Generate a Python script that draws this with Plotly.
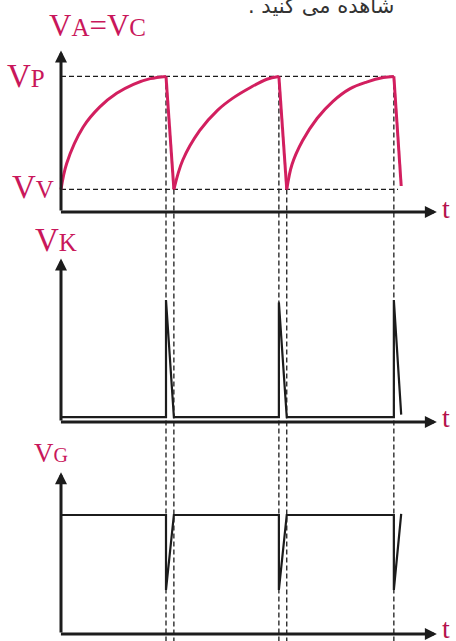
import plotly.graph_objects as go

W, H = 456, 641

# levels on the V_A = V_C panel
VP = 12.0
VV = 2.0

# instants: UJT fires at t_peak, discharge ends at t_valley
t_peak = [10.0, 20.75, 31.7]
t_valley = [10.75, 21.5, 32.4]
v_after_last_drop = 2.3

# charging arcs of the capacitor (t, v)
arc1_t = [0.0, 0.54, 2.1, 3.7, 5.3, 6.9, 8.5, 10.0]
arc1_v = [2.0, 4.3, 7.5, 9.3, 10.5, 11.3, 11.8, 12.0]
arc2_t = [10.75, 11.6, 13.2, 14.9, 16.4, 18.0, 19.6, 20.75]
arc2_v = [2.0, 4.6, 7.2, 9.0, 10.1, 11.0, 11.75, 12.0]
arc3_t = [21.5, 22.0, 23.0, 24.4, 25.9, 27.5, 29.1, 30.7, 31.7]
arc3_v = [2.0, 4.2, 6.3, 8.3, 9.8, 10.9, 11.5, 11.9, 12.0]

# V_K (cathode) and V_G (gate) waveforms
pulse_t = [0.0, 10.0, 10.0, 10.75, 20.75, 20.75, 21.5, 31.7, 31.7, 32.4]
vk_v = [0.4, 0.4, 10.0, 0.4, 0.4, 9.8, 0.4, 0.4, 10.0, 0.6]
vg_v = [10.0, 10.0, 3.7, 10.0, 10.0, 3.7, 10.0, 10.0, 3.7, 10.1]

# axis arrow tips (data units)
t_tip = 35.8
v_tips = {"y": 14.3, "y2": 13.4, "y3": 13.6}

PINK = "#d21f5f"
LABEL = "#c9175b"
INK = "#1c1c1c"


def px_x(p):
    return p / W


def px_y(p):
    return 1 - p / H


def yrange(zero_px, ppu):
    # where the value 0 sits (pixels from top) and pixels per unit
    return [(zero_px - H) / ppu, zero_px / ppu]


fig = go.Figure()

# charging arcs
arc_x = arc1_t + [None] + arc2_t + [None] + arc3_t
arc_y = arc1_v + [None] + arc2_v + [None] + arc3_v
fig.add_trace(go.Scatter(x=arc_x, y=arc_y, mode="lines", yaxis="y",
                         line=dict(color=PINK, width=3, shape="spline", smoothing=1.0)))

# fast discharge
drop_x, drop_y = [], []
ends = [VV, VV, v_after_last_drop]
for tp, tv, ve in zip(t_peak, t_valley, ends):
    drop_x += [tp, tv, None]
    drop_y += [VP, ve, None]
fig.add_trace(go.Scatter(x=drop_x, y=drop_y, mode="lines", yaxis="y",
                         line=dict(color=PINK, width=3)))

fig.add_trace(go.Scatter(x=pulse_t, y=vk_v, mode="lines", yaxis="y2",
                         line=dict(color=INK, width=2.2)))
fig.add_trace(go.Scatter(x=pulse_t, y=vg_v, mode="lines", yaxis="y3",
                         line=dict(color=INK, width=2.2)))

y_bottom = yrange(212, 11.3)[0]
dash = dict(color=INK, width=1.3, dash="5px,3px")
# horizontal guides
fig.add_shape(type="line", xref="x", yref="y", x0=0, x1=t_peak[-1], y0=VP, y1=VP,
              line=dash, layer="below")
fig.add_shape(type="line", xref="x", yref="y", x0=0, x1=32.1, y0=VV, y1=VV,
              line=dash, layer="below")
# vertical guides running through all three panels
for tp in t_peak:
    fig.add_shape(type="line", xref="x", yref="y", x0=tp, x1=tp, y0=VP, y1=y_bottom,
                  line=dash, layer="below")
for tv in t_valley[:2]:
    fig.add_shape(type="line", xref="x", yref="y", x0=tv, x1=tv, y0=VV, y1=y_bottom,
                  line=dash, layer="below")

# axes with arrow heads
ann = []
for yname, tip in v_tips.items():
    arrow = dict(text="", showarrow=True, arrowhead=2, arrowsize=0.8, arrowwidth=3,
                 arrowcolor=INK, xref="x", yref=yname, axref="x", ayref=yname)
    ann.append(dict(arrow, x=t_tip, y=0, ax=-0.15, ay=0))
    ann.append(dict(arrow, x=0, y=tip, ax=0, ay=0))

serif = "Liberation Serif"
small = "<span style='font-size:{}px'>{}</span>"
labels = [
    ("V" + small.format(25, "A") + "=V" + small.format(25, "C"), 97, 25, 31, "center"),
    ("V" + small.format(25, "P"), 47, 76, 33, "right"),
    ("V" + small.format(25, "V"), 56, 187, 33, "right"),
    ("V" + small.format(25, "K"), 56, 240, 33, "center"),
    ("V" + small.format(20, "G"), 51, 453, 27, "center"),
]
for txt, x, y, size, anchor in labels:
    ann.append(dict(text=txt, x=px_x(x), y=px_y(y), xref="paper", yref="paper",
                    xanchor=anchor, yanchor="middle", showarrow=False,
                    font=dict(family=serif, size=size, color=LABEL)))
for axis_px in [212, 422, 632]:
    ann.append(dict(text="t", x=px_x(446), y=px_y(axis_px - 4), xref="paper", yref="paper",
                    xanchor="center", yanchor="middle", showarrow=False,
                    font=dict(family=serif, size=28, color="#b5124c")))

# cut-off line of the book text above the figure
ann.append(dict(text=". شاهده می کنید", x=px_x(396), y=px_y(20),
                xref="paper", yref="paper", xanchor="right", yanchor="bottom",
                showarrow=False, font=dict(family="DejaVu Sans", size=21, color="#333333")))

hidden = dict(visible=False, fixedrange=True)
fig.update_layout(
    width=W, height=H,
    margin=dict(l=0, r=0, t=0, b=0),
    paper_bgcolor="white", plot_bgcolor="white",
    showlegend=False, hovermode=False,
    xaxis=dict(hidden, range=[-61 / 10.5, (W - 61) / 10.5]),
    yaxis=dict(hidden, range=yrange(212, 11.3)),
    yaxis2=dict(hidden, range=yrange(422, 12.2), overlaying="y"),
    yaxis3=dict(hidden, range=yrange(634, 11.9), overlaying="y"),
    annotations=ann,
)

# the page's default body margin would push the figure 8px off
fig.write_html("out.html", config={"displayModeBar": False},
               post_script="document.body.style.margin='0';")
